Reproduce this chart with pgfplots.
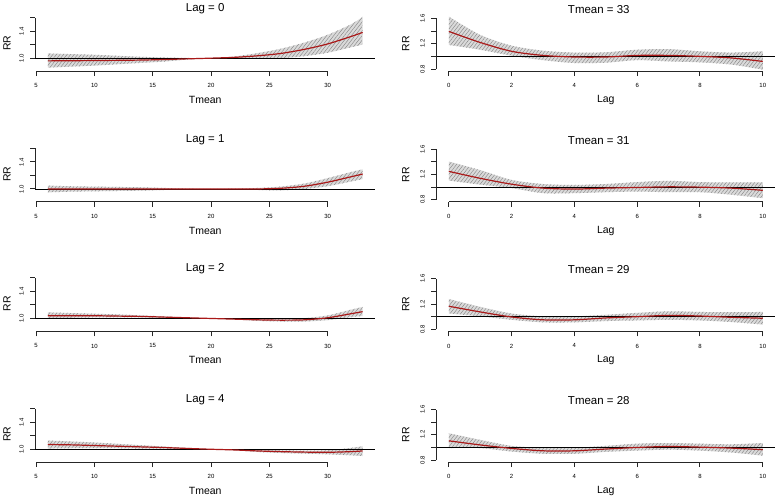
\documentclass[border=0pt]{standalone}
\usepackage{fontspec}
\setmainfont{Liberation Sans}
\usepackage{pgfplots}
\pgfplotsset{compat=1.18}
\usepackage{pgfplotstable}
\usepgfplotslibrary{fillbetween}
\usetikzlibrary{patterns.meta}
\definecolor{bandgray}{RGB}{218,218,218}
\definecolor{hatch}{RGB}{130,130,130}
\definecolor{rrline}{RGB}{170,25,25}

% ---- left panels: Tmean, fit, lo, hi
\pgfplotstableread{
x fit lo hi
6 0.960 0.860 1.070
8 0.962 0.875 1.060
10 0.965 0.890 1.050
12 0.968 0.910 1.035
14 0.972 0.930 1.020
16 0.980 0.950 1.010
18 0.990 0.980 1.003
20 1.000 1.000 1.000
22 1.012 1.000 1.025
24 1.035 0.995 1.075
26 1.070 1.000 1.140
28 1.130 1.030 1.230
30 1.210 1.080 1.345
32 1.320 1.160 1.500
33 1.380 1.200 1.610
}\lagA
\pgfplotstableread{
x fit lo hi
6 1.000 0.950 1.050
8 1.000 0.960 1.040
10 1.000 0.965 1.035
12 1.000 0.970 1.030
14 1.000 0.975 1.025
16 1.000 0.985 1.015
18 1.000 0.995 1.005
20 1.000 1.000 1.000
22 1.000 0.995 1.005
24 1.000 0.985 1.015
26 1.010 0.980 1.035
28 1.040 1.000 1.080
30 1.100 1.040 1.160
32 1.180 1.110 1.250
33 1.220 1.145 1.290
}\lagB
\pgfplotstableread{
x fit lo hi
6 1.040 1.005 1.090
8 1.040 1.010 1.080
10 1.040 1.015 1.070
12 1.035 1.015 1.060
14 1.030 1.015 1.045
16 1.020 1.010 1.030
18 1.010 1.005 1.015
20 1.000 1.000 1.000
22 0.990 0.985 0.995
24 0.980 0.965 0.995
26 0.975 0.955 0.995
28 0.980 0.955 1.005
30 1.010 0.975 1.045
32 1.070 1.020 1.130
33 1.100 1.035 1.170
}\lagC
\pgfplotstableread{
x fit lo hi
6 1.070 1.010 1.130
8 1.065 1.015 1.115
10 1.055 1.015 1.100
12 1.045 1.015 1.080
14 1.035 1.010 1.060
16 1.025 1.008 1.040
18 1.012 1.004 1.020
20 1.000 1.000 1.000
22 0.990 0.985 0.995
24 0.975 0.960 0.990
26 0.965 0.945 0.985
28 0.958 0.935 0.980
30 0.955 0.925 0.985
32 0.965 0.910 1.020
33 0.975 0.900 1.045
}\lagD
% ---- right panels: Lag, fit, lo, hi
\pgfplotstableread{
x fit lo hi
0 1.395 1.180 1.630
1 1.220 1.105 1.340
2 1.080 1.010 1.170
3 1.015 0.940 1.090
4 0.990 0.895 1.060
5 0.990 0.900 1.065
6 1.015 0.940 1.105
7 1.015 0.920 1.115
8 1.000 0.905 1.080
9 0.975 0.870 1.060
10 0.920 0.790 1.080
}\tmA
\pgfplotstableread{
x fit lo hi
0 1.250 1.105 1.405
1 1.140 1.040 1.270
2 1.047 0.985 1.115
3 0.985 0.905 1.050
4 0.970 0.905 1.035
5 0.985 0.920 1.050
6 0.995 0.930 1.080
7 1.005 0.920 1.100
8 1.000 0.920 1.080
9 0.985 0.880 1.075
10 0.950 0.825 1.075
}\tmB
\pgfplotstableread{
x fit lo hi
0 1.165 1.050 1.280
1 1.075 1.005 1.155
2 0.995 0.950 1.050
3 0.950 0.910 1.005
4 0.950 0.910 1.005
5 0.980 0.930 1.030
6 1.000 0.940 1.060
7 1.020 0.950 1.085
8 1.010 0.940 1.075
9 0.990 0.915 1.070
10 0.975 0.875 1.075
}\tmC
\pgfplotstableread{
x fit lo hi
0 1.105 0.990 1.225
1 1.040 0.990 1.120
2 0.985 0.935 1.025
3 0.947 0.900 0.995
4 0.947 0.900 0.995
5 0.975 0.930 1.025
6 1.000 0.950 1.060
7 1.015 0.965 1.070
8 1.005 0.950 1.060
9 0.990 0.920 1.050
10 0.965 0.870 1.070
}\tmD

\pgfplotsset{
  rpanel/.style={
    scale only axis, clip=false,
    axis x line*=bottom, axis y line*=left,
    axis line style={draw=none},
    tick align=outside, major tick length=5pt,
    tick style={black!85, line width=1pt},
    every tick label/.append style={font=\fontsize{6}{6}\selectfont},
    /pgf/number format/assume math mode=true,
    yticklabel style={rotate=90, anchor=south},
    yticklabel shift=3pt,
    xticklabel shift=4pt,
    ylabel=RR,
    label style={font=\fontsize{10.5}{12}\selectfont},
    title style={font=\fontsize{11.5}{13}\selectfont, at={(axis description cs:0.5,1)}, anchor=center, yshift=1pt},
    xlabel style={at={(axis description cs:0.5,0)}, anchor=center, yshift=-29pt},
  },
  leftp/.style={rpanel, width=340.6pt, height=55.6pt,
    xmin=4.92, xmax=34.08, ymin=0.81, ymax=1.63,
    xtick={5,10,...,30}, ytick={1,1.2,1.4,1.6}, yticklabels={1.0,,1.4,},
    xlabel=Tmean,
    ylabel style={at={(axis description cs:-0.083,0.5)}, anchor=center}},
  rightp/.style={rpanel, width=339.6pt, height=54.7pt,
    xmin=-0.4, xmax=10.4, ymin=0.768, ymax=1.632,
    xtick={0,2,...,10}, ytick={0.8,1,1.2,1.4,1.6}, yticklabels={0.8,,1.2,,1.6},
    xlabel=Lag,
    title style={xshift=-7pt},
    ylabel style={at={(axis description cs:-0.09,0.5)}, anchor=center}},
}

\newcommand{\panel}[4]{% table, x first tick, x last tick, y first tick
  \addplot[name path=hi, draw=none, smooth, tension=0.5] table[x=x,y=hi]{#1};
  \addplot[name path=lo, draw=none, smooth, tension=0.5] table[x=x,y=lo]{#1};
  \addplot[fill=bandgray, draw=none] fill between[of=hi and lo];
  \addplot[draw=none, pattern={Lines[angle=52, distance=2.8pt, line width=0.4pt]}, pattern color=hatch] fill between[of=hi and lo];
  \draw[black, line width=0.9pt] ({rel axis cs:0,0} |- {axis cs:#2,1}) -- ({rel axis cs:1,0} |- {axis cs:#2,1});
  \addplot[rrline, line width=1.2pt, smooth, tension=0.5] table[x=x,y=fit]{#1};
  \draw[black!85, line width=1pt] ({axis cs:#2,1} |- {rel axis cs:0,0}) -- ({axis cs:#3,1} |- {rel axis cs:0,0});
  \draw[black!85, line width=1pt] ({rel axis cs:0,0} |- {axis cs:#2,#4}) -- ({rel axis cs:0,0} |- {axis cs:#2,1.6});
}

\begin{document}
\begin{tikzpicture}
\path (0,0) rectangle (778pt,497pt);
% left column
\begin{axis}[leftp, at={(34pt,427.7pt)}, anchor=south west, title={Lag = 0}]
\panel{\lagA}{5}{30}{1}
\end{axis}
\begin{axis}[leftp, at={(34pt,296.7pt)}, anchor=south west, title={Lag = 1}]
\panel{\lagB}{5}{30}{1}
\end{axis}
\begin{axis}[leftp, at={(34pt,167pt)}, anchor=south west, title={Lag = 2}]
\panel{\lagC}{5}{30}{1}
\end{axis}
\begin{axis}[leftp, at={(34pt,36pt)}, anchor=south west, title={Lag = 4}]
\panel{\lagD}{5}{30}{1}
\end{axis}
% right column
\begin{axis}[rightp, at={(435.7pt,427.7pt)}, anchor=south west, title={Tmean = 33}]
\panel{\tmA}{0}{10}{0.8}
\end{axis}
\begin{axis}[rightp, at={(435.7pt,296.7pt)}, anchor=south west, title={Tmean = 31}]
\panel{\tmB}{0}{10}{0.8}
\end{axis}
\begin{axis}[rightp, at={(435.7pt,167pt)}, anchor=south west, title={Tmean = 29}]
\panel{\tmC}{0}{10}{0.8}
\end{axis}
\begin{axis}[rightp, at={(435.7pt,36pt)}, anchor=south west, title={Tmean = 28}]
\panel{\tmD}{0}{10}{0.8}
\end{axis}
\end{tikzpicture}
\end{document}
